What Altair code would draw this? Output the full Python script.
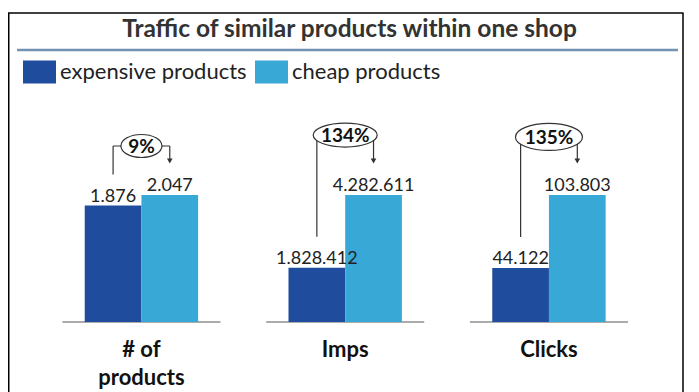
import altair as alt
import pandas as pd

# ---- data ----
metrics = ["# of products", "Imps", "Clicks"]
types = ["expensive products", "cheap products"]
expensive = [1876, 1828412, 44122]
cheap = [2047, 4282611, 103803]

# ---- layout / style constants ----
W, H = 683, 227
PAD = {"left": 0, "top": 87, "right": 0, "bottom": 70}
YMAX = 227 / 127            # y domain top, in units of the taller bar of each group
annot_level = [1.386, 1.472, 1.457]   # bubble height, in units of the taller bar
bubble = [(41, 23), (64, 24), (67, 27)]  # bubble width/height in px
DARK, LIGHT = "#1f4c9c", "#38a8d6"
INK = "#333333"
FONT = "Lato"

rows = []
for i, m in enumerate(metrics):
    mx = max(expensive[i], cheap[i])
    pct = f"{round((cheap[i] / expensive[i] - 1) * 100)}%"
    for t, v in zip(types, [expensive[i], cheap[i]]):
        rows.append(dict(metric=m, type=t, value=v, norm=v / mx,
                         label=f"{v:,}".replace(",", "."),
                         level=annot_level[i], pct=pct))
df = pd.DataFrame(rows)


def ellipse(w, h):
    rx, ry = w / 100, h / 100
    return f"M{-rx},0A{rx},{ry} 0 1,1 {rx},0A{rx},{ry} 0 1,1 {-rx},0Z"


shapes = [ellipse(w, h) for w, h in bubble]

x_enc = alt.X("metric:N", sort=metrics,
              scale=alt.Scale(paddingInner=0, paddingOuter=0.176, align=0.44),
              axis=alt.Axis(title=None, domain=False, ticks=False, grid=False,
                            labelFont=FONT, labelFontSize=22, labelFontWeight="bold",
                            labelColor="#111", labelPadding=17, labelLineHeight=28,
                            labelAngle=0,
                            labelExpr="split(replace(datum.label, 'of ', 'of|'), '|')"))
xo_enc = alt.XOffset("type:N", sort=types,
                     scale=alt.Scale(paddingInner=0, paddingOuter=0.797))
yscale = alt.Scale(domain=[0, YMAX])
y_norm = alt.Y("norm:Q", scale=yscale, axis=None)
y_level = alt.Y("level:Q", scale=yscale, axis=None)

base = alt.Chart(df)
is_exp = alt.datum.type == types[0]
is_cheap = alt.datum.type == types[1]

rect_sym = "M-1,-0.7H1V0.7H-1Z"

bars = base.mark_bar().encode(
    x=x_enc, xOffset=xo_enc, y=y_norm,
    color=alt.Color("type:N", sort=types,
                    scale=alt.Scale(domain=types, range=[DARK, LIGHT]),
                    legend=alt.Legend(title=None, orient="none", legendX=15, legendY=-40,
                                      direction="horizontal", symbolType=rect_sym,
                                      symbolSize=1089, symbolStrokeWidth=0,
                                      symbolOpacity=1, labelFont=FONT,
                                      labelFontSize=22, labelColor="#222",
                                      labelOffset=4, columnPadding=8, labelLimit=400)),
)

labels = base.mark_text(font=FONT, fontSize=18, color="#222", baseline="alphabetic",
                        dy=-4).encode(x=x_enc, xOffset=xo_enc, y=y_norm, text="label:N")

baseline = base.transform_filter(is_cheap).mark_tick(
    orient="horizontal", color="#888888", thickness=2, size=158
).encode(x=x_enc, y=alt.Y(datum=0, scale=yscale, axis=None))

left_rule = base.transform_filter(is_exp).mark_rule(
    color=INK, strokeWidth=1.2, yOffset=-31
).encode(x=x_enc, xOffset=xo_enc, y=y_norm, y2="level:Q")

connector = base.mark_line(color=INK, strokeWidth=1.2).encode(
    x=x_enc, xOffset=xo_enc, y=y_level, detail="metric:N")

arrow = base.transform_filter(is_cheap).mark_rule(
    color=INK, strokeWidth=1.2, y2Offset=-35
).encode(x=x_enc, xOffset=xo_enc, y=y_level, y2="norm:Q")

head = base.transform_filter(is_cheap).mark_point(
    shape="triangle-down", filled=True, size=32, color=INK, opacity=1, yOffset=-34
).encode(x=x_enc, xOffset=xo_enc, y=y_norm)

bubbles = base.transform_filter(is_cheap).mark_point(
    filled=True, fill="white", stroke=INK, strokeWidth=1.2, size=10000, opacity=1
).encode(x=x_enc, y=y_level,
         shape=alt.Shape("metric:N", scale=alt.Scale(domain=metrics, range=shapes),
                         legend=None))

pcts = base.transform_filter(is_cheap).mark_text(
    font=FONT, fontSize=19, fontWeight="bold", color="#111", baseline="middle", dy=1
).encode(x=x_enc, y=y_level, text="pct:N")

deco = alt.Chart(pd.DataFrame({"k": [0]}))
border_l = deco.mark_rule(color="black", strokeWidth=1.5).encode(
    x=alt.value(0.75), y=alt.value(-82), y2=alt.value(H + 80))
border_r = deco.mark_rule(color="black", strokeWidth=1.5).encode(
    x=alt.value(675), y=alt.value(-82), y2=alt.value(H + 80))
border_t = deco.mark_rule(color="black", strokeWidth=1.5).encode(
    x=alt.value(0), x2=alt.value(675.5), y=alt.value(-82))
sep = deco.mark_rule(color="#7391b1", strokeWidth=2.5).encode(
    x=alt.value(9), x2=alt.value(670), y=alt.value(-45))

chart = alt.layer(
    border_l, border_r, border_t, sep,
    baseline, bars, labels, left_rule, connector, arrow, head, bubbles, pcts,
).properties(
    width=W, height=H, padding=PAD,
    autosize=alt.AutoSizeParams(type="none"),
    title=alt.Title("Traffic of similar products within one shop", font=FONT,
                    fontSize=24.5, fontWeight="bold", color=INK, anchor="middle",
                    frame="group", offset=-30),
).configure_view(stroke=None)

chart.save("out.html", embed_options={"renderer": "svg", "actions": False})
